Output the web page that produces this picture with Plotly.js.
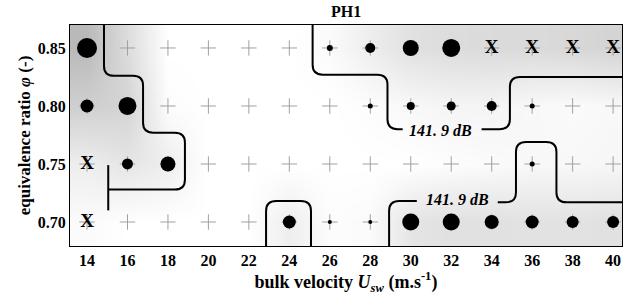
<!DOCTYPE html>
<html><head><meta charset="utf-8">
<script src="https://cdn.plot.ly/plotly-3.0.1.min.js"></script>
<style>html,body{margin:0;padding:0;background:#fff}#chart{width:624px;height:298px}</style>
</head><body><div id="chart"></div>
<script>
// ---- data ----
const velocities = [14,16,18,20,22,24,26,28,30,32,34,36,38,40];
const phis = [0.70,0.75,0.80,0.85];
const velocityTicks = ['14','16','18','20','22','24','26','28','30','32','34','36','38','40'];
const phiTicks = ['0.70','0.75','0.80','0.85'];
// relative oscillation amplitude (0 = stable "+", null = not measured "X")
const amp070 = [null,0,0,0,0,13,4,4,17,17,14,13,12,12];
const amp075 = [null,11,15,0,0,0,0,0,0,0,0,5,0,0];
const amp080 = [13,18,0,0,0,0,0,5,8,9,10,5,0,0];
const amp085 = [20,0,0,0,0,0,6,10,16,18,null,null,null,null];
// background shading level (0..1)
const shade070 = [0.05,0,0,0,0,0.2,0.03,0.05,0.3,0.35,0.35,0.33,0.33,0.35];
const shade075 = [0.2,0.3,0.2,0,0,0,0,0,0,0.03,0.05,0.08,0.08,0.1];
const shade080 = [0.55,0.5,0.03,0,0,0,0,0.03,0.08,0.12,0.12,0.08,0.05,0.08];
const shade085 = [0.8,0.4,0,0,0,0,0.05,0.2,0.35,0.4,0.42,0.42,0.45,0.5];
// 141.9 dB contour segments (velocity, phi)
const c1x = [14.84,14.84,16.77,16.77,18.84,18.84,15.05];
const c1y = [0.90,0.826,0.826,0.777,0.777,0.728,0.728];
const c1bx = [15.05,15.05];
const c1by = [0.749,0.710];
const c2ax = [25.15,25.15,28.85,28.85,29.6];
const c2ay = [0.90,0.827,0.827,0.780,0.780];
const c2bx = [33.5,34.9,34.9,41];
const c2by = [0.780,0.780,0.825,0.825];
const c3ax = [28.93,28.93,30.3];
const c3ay = [0.66,0.718,0.718];
const c3bx = [34.3,35.2,35.2,37.2,37.2,41];
const c3by = [0.717,0.717,0.769,0.769,0.717,0.717];
const c4x = [22.85,22.85,25.07,25.07];
const c4y = [0.66,0.718,0.718,0.66];
const labelText = '141. 9 dB';
const labelX = [31.45,32.3];
const labelY = [0.7785,0.7195];

// ---- build ----
const ampRows = [amp070,amp075,amp080,amp085];
const shadeRows = [shade070,shade075,shade080,shade085];
const allX=[],allY=[],cx=[],cy=[],cs=[],xx=[],xy=[];
ampRows.forEach((row,j)=>row.forEach((a,i)=>{
  allX.push(velocities[i]); allY.push(phis[j]);
  if(a===null){xx.push(velocities[i]); xy.push(phis[j]);}
  else if(a>0){cx.push(velocities[i]); cy.push(phis[j]); cs.push(a);}
}));

function roundedPath(xs, ys, rx, ry){
  const n = xs.length;
  let d = 'M'+xs[0]+','+ys[0];
  for(let i=1;i<n-1;i++){
    const lp = Math.abs(xs[i]-xs[i-1])/rx + Math.abs(ys[i]-ys[i-1])/ry;
    const ln = Math.abs(xs[i+1]-xs[i])/rx + Math.abs(ys[i+1]-ys[i])/ry;
    const f = Math.min(1, (i-1===0?lp:lp/2), (i+1===n-1?ln:ln/2));
    const ax = xs[i]-Math.sign(xs[i]-xs[i-1])*rx*f, ay = ys[i]-Math.sign(ys[i]-ys[i-1])*ry*f;
    const bx = xs[i]+Math.sign(xs[i+1]-xs[i])*rx*f, by = ys[i]+Math.sign(ys[i+1]-ys[i])*ry*f;
    d += ' L'+ax+','+ay+' Q'+xs[i]+','+ys[i]+' '+bx+','+by;
  }
  d += ' L'+xs[n-1]+','+ys[n-1];
  return d;
}
const RX=0.5, RY=0.0085;
const segs = [[c1x,c1y],[c1bx,c1by],[c2ax,c2ay],[c2bx,c2by],[c3ax,c3ay],[c3bx,c3by],[c4x,c4y]];
const shapes = segs.map(s=>({type:'path', xref:'x', yref:'y', path:roundedPath(s[0],s[1],RX,RY),
  line:{color:'#000',width:2}, layer:'above'}));

const serif = 'Liberation Serif';
const B = t => '<b>'+t+'</b>';
const traces = [
  {type:'heatmap', x:velocities, y:phis, z:shadeRows, zsmooth:'best', zmin:0, zmax:1,
   colorscale:[[0,'#ffffff'],[1,'#a8a8a8']], showscale:false, hoverinfo:'skip'},
  {type:'scatter', mode:'markers', x:allX, y:allY, hoverinfo:'skip',
   marker:{symbol:'cross-thin', size:11, opacity:1, line:{color:'#a0a0a0', width:1}}},
  {type:'scatter', mode:'markers', x:cx, y:cy, hoverinfo:'skip',
   marker:{symbol:'circle', size:cs, opacity:1, color:'#000000', line:{width:0}}},
  {type:'scatter', mode:'text', x:xx, y:xy, text:xx.map(()=> B('X')), hoverinfo:'skip',
   textfont:{family:serif, size:19, color:'#000', weight:'bold'}}
];
const annotations = labelX.map((x,i)=>({x:x, y:labelY[i], xref:'x', yref:'y', showarrow:false,
  text:'<b><i>'+labelText+'</i></b>', font:{family:serif, size:16, color:'#000', weight:'bold', style:'italic'}}));
annotations.push({xref:'paper', yref:'paper', x:0.5, y:1, yshift:3, yanchor:'bottom', showarrow:false,
  text:B('PH1'), font:{family:serif, size:16, color:'#000', weight:'bold'}});

const layout = {
  width:624, height:298, margin:{l:70, r:2, t:25, b:52},
  paper_bgcolor:'#fff', plot_bgcolor:'#fff', showlegend:false,
  font:{family:serif, color:'#000'},
  xaxis:{range:[13.16,40.44], tickvals:velocities, ticktext:velocityTicks.map(B),
    tickfont:{family:serif, size:16, color:'#000', weight:'bold'}, showgrid:false, zeroline:false,
    showline:true, mirror:true, linecolor:'#000', linewidth:1, ticks:'',
    title:{text:B('bulk velocity <i>U<sub>sw</sub></i> (m.s<sup>-1</sup>)'), font:{family:serif, size:18, color:'#000', weight:'bold'}, standoff:2}},
  yaxis:{range:[0.6793,0.8698], tickvals:phis, ticktext:phiTicks.map(B),
    tickfont:{family:serif, size:16, color:'#000', weight:'bold'}, showgrid:false, zeroline:false,
    showline:true, mirror:true, linecolor:'#000', linewidth:1, ticks:'',
    title:{text:B('equivalence ratio <i>φ</i> (-)'), font:{family:serif, size:17, color:'#000', weight:'bold'}, standoff:2}},
  shapes:shapes, annotations:annotations
};
Plotly.newPlot('chart', traces, layout, {staticPlot:true, displayModeBar:false});
</script></body></html>
